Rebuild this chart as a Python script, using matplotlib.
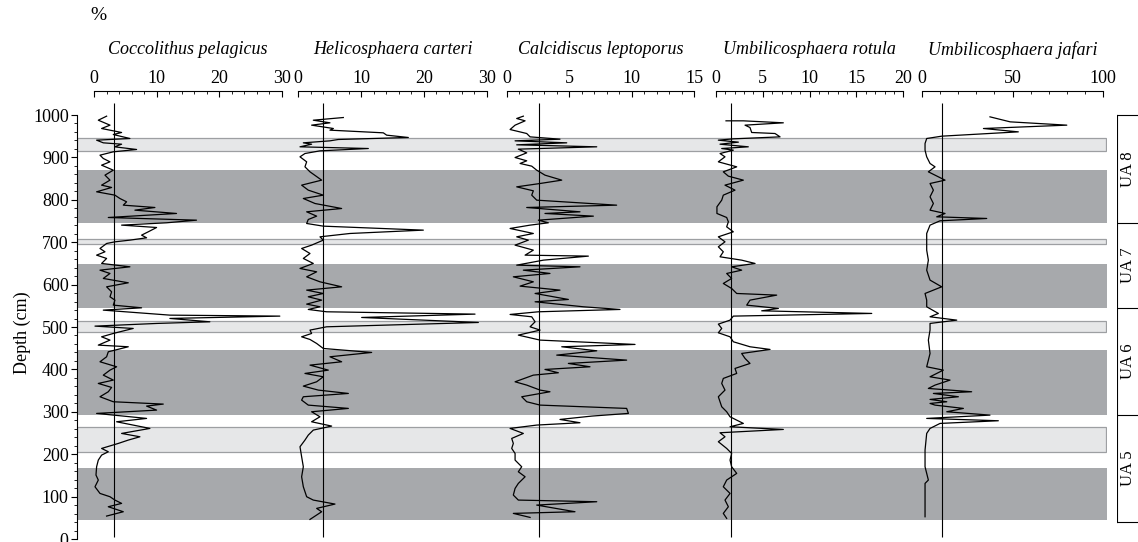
import matplotlib
matplotlib.use("Agg")
import matplotlib.pyplot as plt
from matplotlib.ticker import MultipleLocator, FixedLocator

plt.rcParams['font.family'] = ['Liberation Serif', 'DejaVu Serif']

# --- data (depth in cm, abundance in %) ---
cp_depth = [997.3, 987.8, 976.1, 968.2, 958.8, 954.0, 944.6, 940.7, 934.4, 931.2, 925.0, 918.7, 913.2,
            905.3, 897.5, 889.6, 881.7, 869.9, 858.2, 846.4, 834.6, 829.1, 818.9, 811.0, 803.1, 795.3,
            787.4, 781.9, 775.6, 767.8, 758.3, 752.0, 745.8, 740.3, 734.7, 724.5, 716.7, 710.4, 704.9,
            700.9, 697.0, 685.2, 677.4, 669.5, 661.7, 649.9, 642.0, 634.1, 626.3, 614.5, 604.3, 594.8,
            583.0, 571.3, 563.4, 551.6, 545.3, 539.8, 528.0, 525.7, 520.2, 512.3, 508.4, 502.1, 496.6,
            484.8, 476.9, 469.1, 457.3, 453.4, 441.6, 429.8, 418.0, 406.2, 398.3, 386.5, 374.8, 366.9,
            357.5, 347.3, 335.5, 323.7, 318.2, 313.5, 304.0, 296.2, 284.4, 276.5, 260.8, 249.0, 241.1,
            233.3, 225.4, 213.6, 205.8, 197.9, 186.1, 170.4, 150.8, 139.0, 123.2, 107.5, 99.7, 91.8,
            84.0, 76.1, 64.3, 54.1]
cp_val = [1.97, 0.64, 2.51, 1.17, 4.37, 3.04, 5.70, 0.37, 1.44, 4.37, 3.25, 6.77, 3.04,
          0.91, 1.44, 2.51, 1.17, 3.04, 1.71, 2.51, 1.17, 2.77, 0.37, 3.30, 4.10, 5.17,
          4.64, 9.70, 6.50, 13.16, 2.24, 16.36, 11.56, 4.37, 9.97, 8.63, 7.57, 8.37, 5.70,
          3.30, 1.97, 0.91, 1.71, 0.37, 1.97, 1.17, 5.70, 0.91, 2.51, 1.44, 5.44, 1.97,
          2.77, 2.51, 3.30, 3.04, 7.57, 1.44, 12.10, 29.7, 12.10, 18.5, 9.97, 0.11, 6.23,
          3.04, 1.17, 2.51, 0.64, 5.44, 2.24, 1.97, 0.91, 3.57, 2.51, 1.44, 3.04, 0.64,
          2.77, 2.24, 0.91, 3.04, 11.04, 8.37, 9.97, 0.37, 8.37, 3.57, 8.90, 4.37, 7.30,
          5.44, 3.84, 1.17, 2.24, 1.17, 0.64, 0.37, 0.27, 0.64, 0.11, 0.91, 2.51, 3.30,
          4.37, 2.24, 4.64, 1.97]

hc_depth = [994.1, 987.8, 981.6, 976.1, 968.2, 964.3, 958.0, 952.5, 947.0, 942.3, 939.1, 934.4, 931.2,
            925.0, 921.0, 915.5, 909.2, 901.4, 889.6, 877.8, 866.0, 846.4, 834.6, 822.8, 811.0, 803.1,
            791.3, 779.5, 771.7, 761.5, 753.6, 744.2, 737.9, 728.5, 720.6, 712.7, 704.9, 693.1, 685.2,
            673.4, 661.7, 649.9, 638.1, 630.2, 618.4, 606.6, 594.8, 587.0, 579.1, 571.3, 563.4, 554.0,
            547.7, 541.4, 535.9, 530.4, 522.5, 510.7, 500.5, 492.7, 484.8, 476.9, 470.6, 461.2, 449.4,
            440.0, 429.8, 418.0, 410.1, 398.3, 390.5, 382.6, 370.8, 360.6, 351.2, 343.3, 335.5, 327.6,
            315.8, 308.0, 300.1, 288.3, 276.5, 266.3, 256.9, 245.1, 233.3, 217.6, 194.0, 170.4, 146.8,
            123.2, 99.7, 91.8, 82.4, 72.2, 64.3, 46.2]
hc_val = [7.17, 2.39, 5.04, 2.12, 5.58, 5.04, 13.54, 14.07, 17.52, 6.37, 5.04, 0.80, 2.12,
          0.27, 11.15, 3.45, 1.06, 0.27, 1.33, 1.06, 1.86, 3.72, 0.53, 1.59, 3.98, 0.80,
          2.66, 6.90, 1.33, 2.92, 1.59, 1.33, 3.98, 19.91, 8.23, 3.45, 3.98, 2.12, 0.53,
          1.86, 0.80, 2.39, 0.27, 2.92, 1.33, 3.45, 6.90, 1.33, 3.98, 1.59, 3.72, 1.33,
          3.45, 1.59, 4.51, 28.14, 10.09, 28.67, 4.51, 1.86, 2.12, 0.53, 1.86, 2.92, 3.98,
          11.68, 5.04, 6.90, 1.86, 4.78, 1.06, 3.98, 2.92, 0.80, 3.19, 7.97, 0.80, 0.53,
          1.59, 7.97, 2.12, 3.45, 2.12, 5.31, 2.39, 1.59, 1.06, 0.27, 0.53, 0.80, 0.53,
          0.80, 1.33, 2.39, 5.84, 2.92, 3.72, 1.86]

cl_depth = [997.3, 991.8, 986.3, 976.1, 965.8, 956.4, 948.5, 943.0, 939.1, 934.4, 929.7, 925.0, 919.5,
            910.8, 899.8, 892.0, 885.7, 879.4, 869.9, 858.2, 846.4, 838.5, 830.6, 821.2, 811.0, 799.2,
            787.4, 781.9, 771.7, 767.8, 761.5, 752.0, 745.8, 740.3, 732.4, 720.6, 712.7, 704.9, 693.1,
            681.3, 669.5, 667.2, 657.7, 645.9, 642.0, 634.1, 626.3, 618.4, 606.6, 596.4, 587.0, 579.1,
            565.0, 559.5, 547.7, 541.4, 535.9, 529.6, 524.1, 512.3, 500.5, 492.7, 480.9, 469.1, 458.9,
            453.4, 443.9, 433.7, 421.9, 414.1, 406.2, 399.9, 392.1, 386.5, 370.8, 363.0, 351.2, 347.3,
            335.5, 323.7, 315.8, 308.0, 296.2, 289.9, 282.0, 274.2, 268.7, 260.8, 249.0, 237.2, 225.4,
            213.6, 201.8, 186.1, 170.4, 158.6, 146.8, 131.1, 119.3, 103.6, 91.8, 87.9, 80.0, 64.3,
            60.4, 50.9]
cl_val = [1.33, 0.80, 1.47, 0.67, 0.27, 1.60, 1.87, 4.26, 0.67, 4.80, 0.80, 7.20, 0.93,
          1.60, 0.67, 1.60, 1.07, 2.00, 2.40, 3.06, 4.40, 2.67, 0.80, 2.13, 2.00, 2.40,
          8.79, 1.60, 5.86, 3.06, 6.93, 2.53, 3.33, 1.87, 0.27, 2.13, 0.80, 1.73, 0.67,
          2.13, 1.47, 6.53, 2.93, 0.80, 5.86, 1.33, 3.46, 0.53, 2.13, 1.07, 4.26, 2.27,
          4.93, 2.27, 6.13, 9.06, 2.53, 0.27, 2.00, 2.27, 1.87, 2.67, 0.93, 2.67, 10.26,
          4.40, 7.20, 4.00, 9.59, 4.93, 6.66, 3.06, 4.13, 2.13, 0.67, 1.60, 2.67, 3.46,
          1.20, 1.60, 2.67, 9.59, 9.73, 6.80, 4.26, 5.86, 2.40, 0.27, 1.33, 0.40, 0.53,
          0.40, 0.67, 0.67, 1.20, 0.93, 1.47, 0.93, 0.67, 0.53, 0.93, 7.20, 2.40, 5.46,
          0.53, 1.87]

ur_depth = [986.3, 986.3, 981.6, 976.1, 970.5, 958.8, 956.4, 948.5, 943.8, 940.7, 936.0, 931.2, 925.0,
            921.0, 917.1, 909.2, 901.4, 889.6, 877.8, 866.0, 855.8, 846.4, 834.6, 822.8, 811.0, 799.2,
            783.5, 767.8, 758.3, 748.1, 736.3, 724.5, 712.7, 700.9, 689.2, 677.4, 665.6, 657.7, 649.9,
            642.0, 634.1, 626.3, 614.5, 602.7, 590.9, 579.1, 575.2, 563.4, 551.6, 543.8, 538.2, 532.0,
            525.7, 516.2, 506.8, 496.6, 486.4, 476.9, 465.2, 453.4, 447.1, 437.6, 425.9, 414.1, 402.3,
            390.5, 378.7, 366.9, 351.2, 335.5, 323.7, 311.9, 300.1, 288.3, 280.4, 272.6, 264.7, 258.4,
            250.6, 241.1, 229.4, 213.6, 201.8, 186.1, 170.4, 154.7, 139.0, 123.2, 107.5, 91.8, 76.1,
            60.4, 48.6]
ur_val = [1.07, 2.92, 7.19, 3.10, 3.63, 3.81, 6.30, 6.84, 1.85, 0.25, 2.39, 0.43, 3.45,
          0.61, 1.85, 0.43, 0.96, 0.25, 2.21, 0.78, 1.32, 2.92, 0.96, 2.03, 0.78, 0.61,
          0.10, 0.10, 1.14, 1.32, 1.14, 1.85, 0.25, 0.96, 0.25, 0.78, 0.43, 2.74, 4.17,
          1.67, 2.74, 1.14, 1.67, 0.78, 1.67, 2.21, 6.48, 3.63, 3.28, 6.66, 4.88, 16.63,
          1.85, 1.50, 0.25, 0.61, 0.25, 1.50, 1.85, 3.63, 5.77, 2.74, 3.10, 3.63, 2.03,
          2.21, 0.78, 0.61, 0.96, 0.25, 0.43, 0.61, 1.14, 1.50, 2.21, 2.92, 1.50, 7.19,
          0.43, 0.96, 0.25, 1.14, 1.67, 1.50, 1.67, 2.21, 1.14, 0.78, 1.50, 0.96, 1.32,
          0.78, 1.14]

uj_depth = [995.7, 983.9, 976.1, 968.2, 960.3, 950.1, 944.6, 932.8, 917.1, 901.4, 885.7, 877.8, 866.0,
            846.4, 838.5, 822.8, 807.1, 791.3, 775.6, 767.8, 759.9, 756.0, 750.5, 740.3, 720.6, 681.3,
            657.7, 634.1, 610.6, 594.8, 579.1, 563.4, 547.7, 532.0, 524.1, 516.2, 508.4, 492.7, 469.1,
            437.6, 406.2, 398.3, 382.6, 374.8, 363.0, 355.1, 347.3, 343.3, 335.5, 329.2, 323.7, 319.7,
            315.8, 308.0, 300.1, 292.2, 284.4, 278.9, 272.6, 260.8, 249.0, 209.7, 170.4, 139.0, 131.1,
            91.8, 52.5]
uj_val = [37.6, 48.7, 79.9, 34.0, 53.2, 11.0, 2.75, 1.84, 1.84, 2.75, 4.59, 7.34, 3.67,
          12.85, 4.59, 6.43, 4.59, 6.43, 4.59, 12.85, 8.26, 35.8, 10.1, 4.59, 2.75, 2.75,
          3.67, 2.75, 4.59, 11.0, 1.84, 2.75, 2.75, 9.18, 4.59, 19.3, 4.59, 4.59, 3.67,
          4.59, 2.75, 11.9, 4.59, 15.6, 7.34, 3.67, 27.5, 6.43, 20.2, 4.59, 13.8, 4.59,
          7.34, 22.95, 13.8, 37.6, 2.75, 42.2, 10.1, 4.59, 2.75, 1.84, 1.84, 3.67, 1.84,
          1.84, 1.84]

species = ['Coccolithus pelagicus', 'Helicosphaera carteri', 'Calcidiscus leptoporus',
           'Umbilicosphaera rotula', 'Umbilicosphaera jafari']
xmax = [30, 30, 15, 20, 100]
xmajor = [10, 10, 5, 5, 50]
xminor = [2, 2, 1, 1, 10]
mean_line = [3.2, 3.9, 2.6, 1.6, 11]
series = [(cp_depth, cp_val), (hc_depth, hc_val), (cl_depth, cl_val),
          (ur_depth, ur_val), (uj_depth, uj_val)]

# shaded intervals (bottom, top)
dark_bands = [(45, 168), (292, 445), (545, 649), (745, 871)]
light_bands = [(205, 265), (488, 513), (696, 707), (914, 946)]

ua_bounds = [41, 292, 545, 745, 1000]
ua_labels = ['UA 5', 'UA 6', 'UA 7', 'UA 8']

FS = 13

# --- layout ---
W, H = 1138, 542
fig = plt.figure(figsize=(W / 100, H / 100), dpi=100)
ybot = 3 / H
yh = (539 - 102.3) / H
ylim = (0, 1030)

# background axis with bands and depth scale
bg = fig.add_axes([77 / W, ybot, 1030 / W, yh])
bg.set_ylim(ylim)
bg.set_xlim(0, 1)
for b, t in dark_bands:
    bg.axhspan(b, t, color='#a7a9ac', lw=0)
for b, t in light_bands:
    bg.axhspan(b, t, xmax=0.9995, facecolor='#e6e7e8', edgecolor='#9d9fa2', lw=0.9)
for s in ['top', 'right', 'bottom']:
    bg.spines[s].set_visible(False)
bg.spines['left'].set_bounds(0, 1000)
bg.spines['left'].set_linewidth(0.8)
bg.set_xticks([])
bg.set_yticks(range(0, 1001, 100))
bg.yaxis.set_minor_locator(FixedLocator(range(0, 1001, 20)))
bg.tick_params(axis='y', which='major', direction='out', length=4, width=0.8, labelsize=FS, pad=2)
bg.tick_params(axis='y', which='minor', direction='out', length=2, width=0.6)
fig.text(22 / W, 1 - 333 / H, 'Depth (cm)', rotation=90, ha='center', va='center', fontsize=FS)

# species panels
lefts = [94.3, 298.3, 506.7, 716.0, 921.7]
widths = [187.4, 188.4, 187.6, 187.3, 181.6]
for i in range(5):
    ax = fig.add_axes([lefts[i] / W, ybot, widths[i] / W, yh])
    ax.patch.set_visible(False)
    d, v = series[i]
    ax.plot(v, d, color='black', lw=0.9)
    ax.vlines(mean_line[i], 5, 1028, color='black', lw=0.8)
    ax.set_xlim(0, xmax[i])
    ax.set_ylim(ylim)
    for s in ['left', 'right', 'bottom']:
        ax.spines[s].set_visible(False)
    ax.spines['top'].set_position(('outward', 8))
    ax.spines['top'].set_linewidth(0.8)
    ax.set_yticks([])
    ax.xaxis.tick_top()
    ax.xaxis.set_major_locator(MultipleLocator(xmajor[i]))
    ax.xaxis.set_minor_locator(MultipleLocator(xminor[i]))
    ax.tick_params(axis='x', which='major', direction='in', length=4, width=0.8, labelsize=FS, pad=3)
    ax.tick_params(axis='x', which='minor', direction='in', length=2.5, width=0.6)
    fig.text((lefts[i] + widths[i] / 2) / W, 1 - 50 / H, species[i], style='italic',
             ha='center', va='center', fontsize=FS)

fig.text(90 / W, 1 - 16 / H, '%', ha='left', va='center', fontsize=14)

# UA bracket on the right
ua = fig.add_axes([1117 / W, ybot, 21 / W, yh])
ua.set_ylim(ylim)
ua.set_xlim(0, 1)
ua.axis('off')
ua.plot([0, 0], [ua_bounds[0], ua_bounds[-1]], color='black', lw=0.8)
for yb in ua_bounds:
    ua.plot([0, 1], [yb, yb], color='black', lw=0.8)
for j, lab in enumerate(ua_labels):
    ua.text(0.5, (ua_bounds[j] + ua_bounds[j + 1]) / 2, lab, rotation=90,
            ha='center', va='center', fontsize=12)

fig.savefig('out.png', dpi=100)
